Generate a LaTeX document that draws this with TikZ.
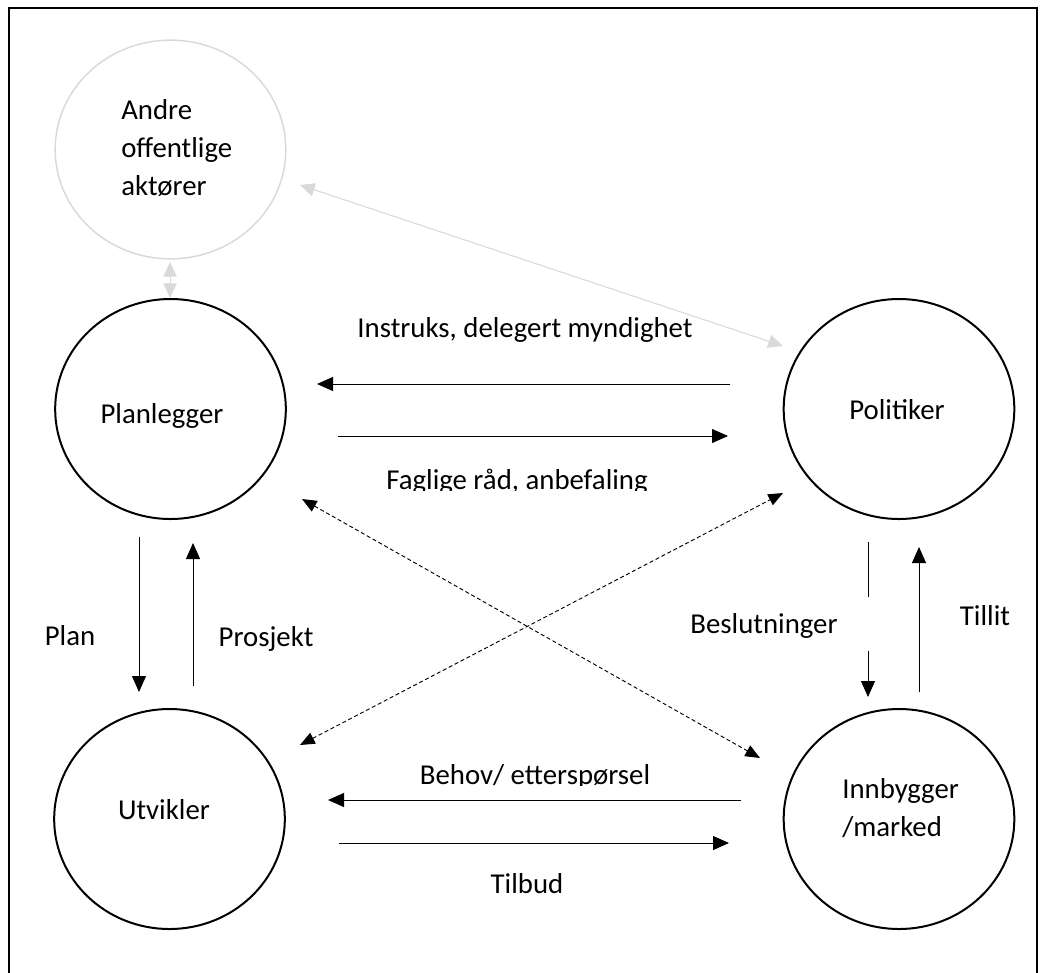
\documentclass[tikz,border=0pt]{standalone}
\usepackage{fontspec}
\setmainfont{Carlito}
\usetikzlibrary{arrows.meta,shapes.geometric}
\definecolor{lightg}{RGB}{217,217,217}
\begin{document}
\begin{tikzpicture}[x=0.75pt,y=-0.75pt,
  every node/.style={font=\fontsize{21.6pt}{28.8pt}\selectfont, inner sep=0pt},
  actor/.style={draw, ellipse, line width=1.5pt, minimum width=173pt, minimum height=165pt},
  otheractor/.style={draw=lightg, ellipse, line width=1.1pt, minimum width=173pt, minimum height=164pt},
  lbl/.style={anchor=base},
  tip/.style={-{Triangle[length=12pt,width=10.5pt]}},
  flow/.style={tip, line width=0.75pt},
  mutual/.style={{Triangle[length=11pt,width=9pt]}-{Triangle[length=11pt,width=9pt]}, line width=0.7pt, dash pattern=on 3pt off 2pt},
  grayflow/.style={{Triangle[length=11pt,width=10pt]}-{Triangle[length=11pt,width=10pt]}, draw=lightg, fill=lightg, line width=0.75pt}
]
\useasboundingbox (0,0) rectangle (1046,972);
% frame
\draw[line width=1.1pt] (9,980) -- (9,8) -- (1037,8) -- (1037,980);

% actors
\node[otheractor] (andre) at (170.5,149.5) {};
\node[actor] (plan) at (170.5,409) {};
\node[actor] (pol) at (899,409) {};
\node[actor] (utv) at (169.5,819) {};
\node[actor] (innb) at (899,819) {};

% actor names
\node[anchor=west, align=left] (andretxt) at (121,148) {Andre\\offentlige\\aktører};
\node[lbl] (plantxt) at (162,423) {Planlegger};
\node[lbl] (poltxt) at (897,419) {Politiker};
\node[lbl] (utvtxt) at (164,819) {Utvikler};
\node[anchor=west, align=left] (innbtxt) at (842,808) {Innbygger\\/marked};

% connector end points
\coordinate (a1) at (170,262);
\coordinate (a2) at (170,298);
\coordinate (d1) at (300,185);
\coordinate (d2) at (783,346);
\coordinate (ins1) at (730,384);
\coordinate (ins2) at (317,384);
\coordinate (fag1) at (338,436);
\coordinate (fag2) at (728,436);
\coordinate (pl1) at (139,537);
\coordinate (pl2) at (139,692);
\coordinate (pr1) at (193,686);
\coordinate (pr2) at (193,543);
\coordinate (be1) at (868,542);
\coordinate (be2) at (868,697);
\coordinate (ti1) at (919,692);
\coordinate (ti2) at (919,547);
\coordinate (x1) at (302,499);
\coordinate (x2) at (760,758);
\coordinate (y1) at (300,745);
\coordinate (y2) at (783,493);
\coordinate (bh1) at (741,800);
\coordinate (bh2) at (328,800);
\coordinate (tb1) at (339,843);
\coordinate (tb2) at (729,843);

% grey connectors
\draw[grayflow] (a1) -- (a2);
\draw[grayflow] (d1) -- (d2);

% solid flows
\draw[flow] (ins1) -- (ins2);
\draw[flow] (fag1) -- (fag2);
\draw[flow] (pl1) -- (pl2);
\draw[flow] (pr1) -- (pr2);
\draw[flow, dash pattern=on 41.25pt off 40.5pt on 200pt] (be1) -- (be2);
\draw[flow] (ti1) -- (ti2);
\draw[flow] (bh1) -- (bh2);
\draw[flow] (tb1) -- (tb2);

% dashed mutual connectors
\draw[mutual] (x1) -- (x2);
\draw[mutual] (y1) -- (y2);

% connector labels
\node[lbl] (instxt) at (525,337) {Instruks, delegert myndighet};
\begin{scope}
  \clip (300,440) rectangle (740,490);
  \node[lbl] (fagtxt) at (517,489) {Faglige råd, anbefaling};
\end{scope}
\node[lbl] (pltxt) at (70,645) {Plan};
\node[lbl] (prtxt) at (266,646) {Prosjekt};
\node[lbl] (betxt) at (764,633) {Beslutninger};
\node[lbl] (titxt) at (985,625) {Tillit};
\begin{scope}
  \clip (300,740) rectangle (760,785);
  \node[lbl] (bhtxt) at (535,784) {Behov/ etterspørsel};
\end{scope}
\node[lbl] (tbtxt) at (527,893) {Tilbud};
\end{tikzpicture}
\end{document}
